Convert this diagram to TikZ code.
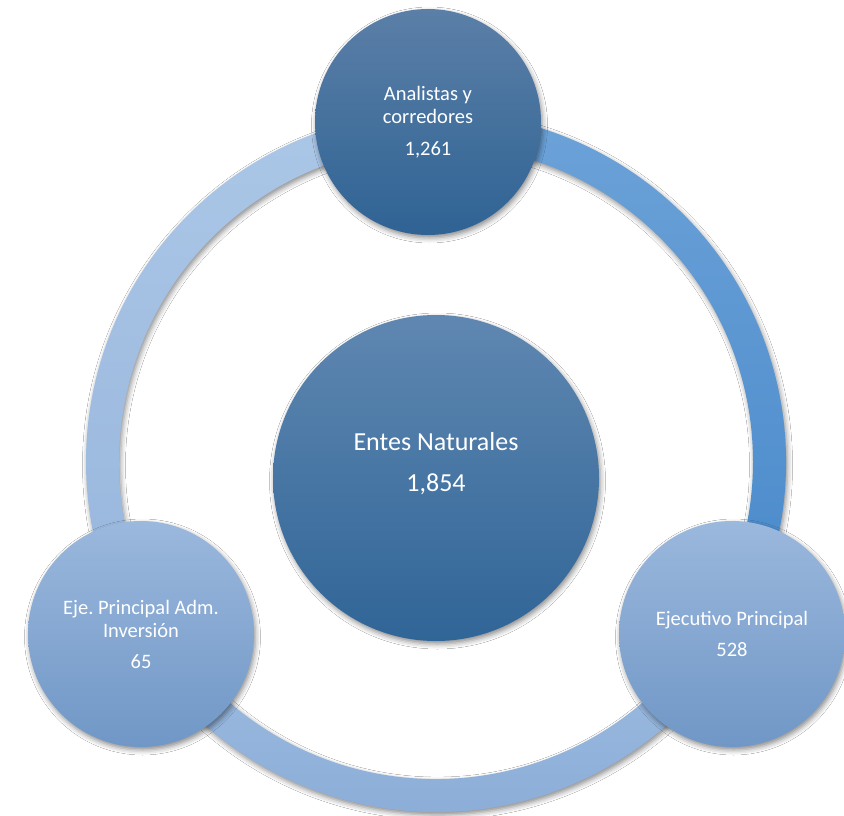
\documentclass[tikz,border=0pt]{standalone}
\usepackage{fontspec}
\setmainfont{Carlito}
\usetikzlibrary{shadows.blur}
\frenchspacing
\definecolor{darkTop}{HTML}{5B7FA7}
\definecolor{darkBot}{HTML}{2F6394}
\definecolor{cenTop}{HTML}{5F87B1}
\definecolor{cenBot}{HTML}{306597}
\definecolor{lightTop}{HTML}{9BB8DD}
\definecolor{lightBot}{HTML}{7097C6}
\definecolor{ringLTop}{HTML}{ABC7E7}
\definecolor{ringLBot}{HTML}{97B5DC}
\definecolor{ringRTop}{HTML}{6CA2D8}
\definecolor{ringRBot}{HTML}{4788CA}
\definecolor{ringBTop}{HTML}{A0BEE3}
\definecolor{ringBBot}{HTML}{86A9D4}
\tikzset{
  softshadow/.style={blur shadow={shadow xshift=1.5pt, shadow yshift=-3pt, shadow blur radius=5pt, shadow opacity=45}},
  smallcirc/.style={circle, minimum size=226pt, inner sep=0pt, softshadow},
  darkcirc/.style={smallcirc, top color=darkTop, bottom color=darkBot},
  lightcirc/.style={smallcirc, top color=lightTop, bottom color=lightBot},
  bigcirc/.style={circle, minimum size=326pt, inner sep=0pt, softshadow, top color=cenTop, bottom color=cenBot},
  smalltxt/.style={text=white, align=center, font=\fontsize{20.5}{23.5}\selectfont, inner sep=0pt},
  bigtxt/.style={text=white, align=center, font=\fontsize{26}{30}\selectfont, inner sep=0pt},
}
\begin{document}
\begin{tikzpicture}[x=1pt,y=1pt]
\useasboundingbox (0,0) rectangle (844,-816);
\fill[white] (0,0) rectangle (844,-816);
\coordinate (o) at (436,-462);
% ring arcs
\begin{scope}[shift={(436,-462)}]
\shade[softshadow, top color=ringLTop, bottom color=ringLBot]
  (90:350) arc[start angle=90, end angle=210, radius=350]
  -- (210:317) arc[start angle=210, end angle=90, radius=317] -- cycle;
\shade[softshadow, top color=ringRTop, bottom color=ringRBot]
  (-30:350) arc[start angle=-30, end angle=90, radius=350]
  -- (90:317) arc[start angle=90, end angle=-30, radius=317] -- cycle;
\shade[softshadow, top color=ringBTop, bottom color=ringBBot]
  (210:350) arc[start angle=210, end angle=330, radius=350]
  -- (330:317) arc[start angle=330, end angle=210, radius=317] -- cycle;
\end{scope}
% circles
\node[bigcirc] (c) at (436,-478) {};
\node[darkcirc] (t) at (428,-122) {};
\node[lightcirc] (l) at (141,-634) {};
\node[lightcirc] (r) at (732,-634) {};
% texts
\node[bigtxt] (ct) at ([yshift=14pt]c.center) {Entes Naturales\\[11pt]1,854};
\node[smalltxt] (tt) at (t.center) {Analistas y\\corredores\\[8pt]1,261};
\node[smalltxt] (lt) at (l.center) {Eje. Principal Adm.\\Inversión\\[7pt]65};
\node[smalltxt] (rt) at (r.center) {Ejecutivo Principal\\[8pt]528};
\end{tikzpicture}
\end{document}
